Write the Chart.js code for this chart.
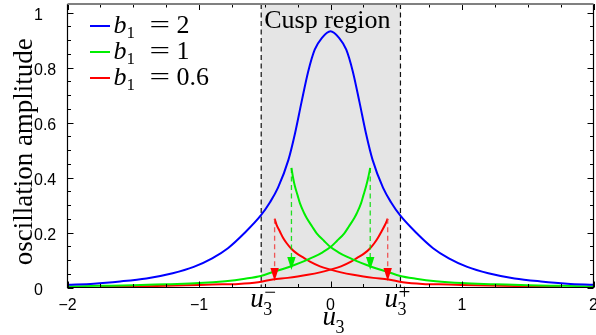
<!DOCTYPE html>
<html><head><meta charset="utf-8">
<script src="https://cdn.jsdelivr.net/npm/chart.js@4/dist/chart.umd.min.js"></script>
<style>html,body{margin:0;padding:0;background:#fff;}canvas{display:block;}</style>
</head><body>
<canvas id="c" width="596" height="335"></canvas>
<script>
// ---------------- data ----------------
const blueU = [-2.0,-1.8,-1.6,-1.4,-1.2,-1.04,-0.9,-0.78,-0.65,-0.53,-0.46,-0.40,-0.32,-0.27,-0.22,-0.17,-0.12,-0.065,0,0.065,0.12,0.17,0.22,0.27,0.32,0.40,0.46,0.53,0.65,0.78,0.9,1.04,1.2,1.4,1.6,1.8,2.0];
const blueV = [0.010,0.014,0.022,0.033,0.052,0.075,0.106,0.143,0.200,0.262,0.310,0.362,0.464,0.560,0.675,0.785,0.865,0.908,0.932,0.908,0.865,0.785,0.675,0.560,0.464,0.362,0.310,0.262,0.200,0.143,0.106,0.075,0.052,0.033,0.022,0.014,0.010];

// green, b1 = 1 : lower branch rising to the right fold, upper branch falling from the left fold
const greenAU = [-2.0,-1.75,-1.5,-1.25,-1.0,-0.8,-0.65,-0.53,-0.427,-0.35,-0.275,-0.2,-0.123,-0.06,0,0.05,0.105,0.14,0.18,0.2,0.232,0.25,0.27,0.287,0.302];
const greenAV = [0.004,0.006,0.008,0.012,0.016,0.023,0.032,0.042,0.058,0.069,0.082,0.096,0.112,0.128,0.147,0.170,0.197,0.222,0.252,0.270,0.306,0.335,0.367,0.400,0.435];
const greenBU = [-0.297,-0.285,-0.27,-0.25,-0.232,-0.2,-0.18,-0.14,-0.105,-0.05,0,0.06,0.123,0.2,0.275,0.35,0.427,0.53,0.65,0.8,1.0,1.25,1.5,1.75,2.0];
const greenBV = [0.435,0.400,0.367,0.335,0.306,0.270,0.252,0.222,0.197,0.170,0.147,0.128,0.112,0.096,0.082,0.069,0.058,0.042,0.032,0.023,0.016,0.012,0.008,0.006,0.004];

// red, b1 = 0.6
const redAU = [-1.75,-1.4,-1.1,-0.9,-0.7,-0.55,-0.44,-0.326,-0.25,-0.173,-0.08,0,0.08,0.156,0.2,0.257,0.3,0.333,0.36,0.387,0.415,0.435];
const redAV = [0.003,0.005,0.008,0.011,0.013,0.019,0.029,0.035,0.040,0.046,0.055,0.065,0.077,0.094,0.107,0.124,0.142,0.161,0.180,0.203,0.228,0.250];
const redBU = [-0.425,-0.41,-0.384,-0.36,-0.333,-0.3,-0.257,-0.2,-0.156,-0.08,0,0.08,0.173,0.25,0.326,0.44,0.55,0.7,0.9,1.1,1.4,1.75];
const redBV = [0.250,0.228,0.203,0.180,0.161,0.142,0.124,0.107,0.094,0.077,0.065,0.055,0.046,0.040,0.035,0.029,0.019,0.013,0.011,0.008,0.005,0.003];

// jump arrows at the fold points
const arrowU    = [-0.297, 0.302, -0.425, 0.435];
const arrowFrom = [0.435, 0.435, 0.250, 0.250];
const arrowTo   = [0.064, 0.064, 0.024, 0.024];
const arrowSeries = ['green','green','red','red'];

const cuspRegion = [-0.527, 0.532];
const cuspLabel = 'Cusp region';

const legendValues = ['2','1','0.6'];
const xTicks = [-2,-1,0,1,2];
const xTickLabels = ['\u22122','\u22121','0','1','2'];
const yTicks = [0,0.2,0.4,0.6,0.8,1];
const yTickLabels = ['0','0.2','0.4','0.6','0.8','1'];
const yTitle = 'oscillation amplitude';

// ---------------- styles ----------------
const COL = {blue:'#0000ff', green:'#00ee00', red:'#ff0000'};
const DASHCOL = {green:'rgba(0,220,0,0.85)', red:'rgba(240,60,60,0.85)'};
const SERIF = '"Liberation Serif", "Times New Roman", serif';
const SANS = '"Liberation Sans", Arial, sans-serif';

const pts = (u, v) => u.map((x, i) => ({x, y: v[i]}));
const lineDs = (label, u, v, c) => ({
  label, data: pts(u, v), borderColor: c, backgroundColor: c, borderWidth: 2,
  pointRadius: 0, cubicInterpolationMode: 'monotone', fill: false
});

const px = (ch, u) => ch.scales.x.getPixelForValue(u);
const py = (ch, v) => ch.scales.y.getPixelForValue(v);

const shadePlugin = {
  id: 'shade',
  beforeDatasetsDraw(ch) {
    const {ctx, chartArea: a} = ch;
    const x0 = px(ch, cuspRegion[0]), x1 = px(ch, cuspRegion[1]);
    ctx.save();
    ctx.fillStyle = '#e5e5e5';
    ctx.fillRect(x0, a.top, x1 - x0, a.bottom - a.top);
    ctx.strokeStyle = '#111'; ctx.lineWidth = 1.2; ctx.setLineDash([5, 3.5]);
    for (const x of [x0, x1]) { ctx.beginPath(); ctx.moveTo(x, a.top); ctx.lineTo(x, a.bottom); ctx.stroke(); }
    ctx.restore();
  }
};

const framePlugin = {
  id: 'frame',
  afterDatasetsDraw(ch) {
    const {ctx, chartArea: a} = ch;
    ctx.save();
    ctx.strokeStyle = '#000'; ctx.lineWidth = 1;
    for (let u = -2; u <= 2.0001; u += 0.25) {
      const x = Math.round(px(ch, u)) + 0.5;
      const major = Math.abs(u - Math.round(u)) < 1e-6;
      const L = major ? 6 : 3.5;
      ctx.beginPath(); ctx.moveTo(x, a.bottom); ctx.lineTo(x, a.bottom - L);
      ctx.moveTo(x, a.top); ctx.lineTo(x, a.top + L); ctx.stroke();
    }
    for (let k = 0; k <= 20; k++) {
      const v = k * 0.05;
      const y = Math.round(py(ch, v)) + 0.5;
      const L = (k % 4 === 0) ? 6 : 3.5;
      ctx.beginPath(); ctx.moveTo(a.left, y); ctx.lineTo(a.left + L, y);
      ctx.moveTo(a.right, y); ctx.lineTo(a.right - L, y); ctx.stroke();
    }
    ctx.strokeStyle = '#000'; ctx.lineWidth = 1.2;
    ctx.beginPath();
    ctx.moveTo(a.left, a.top); ctx.lineTo(a.left, a.bottom); ctx.lineTo(a.right, a.bottom); ctx.lineTo(a.right, a.top);
    ctx.stroke();
    ctx.strokeStyle = '#808080'; ctx.lineWidth = 1.8;
    ctx.beginPath(); ctx.moveTo(a.left, a.top); ctx.lineTo(a.right, a.top); ctx.stroke();
    ctx.restore();
  }
};

const arrowPlugin = {
  id: 'arrows',
  afterDatasetsDraw(ch) {
    const ctx = ch.ctx;
    ctx.save();
    arrowU.forEach((u, i) => {
      const x = px(ch, u), y0 = py(ch, arrowFrom[i]), y1 = py(ch, arrowTo[i]);
      const head = 13, hw = 4.2;
      ctx.strokeStyle = DASHCOL[arrowSeries[i]]; ctx.lineWidth = 1.3; ctx.setLineDash([5, 3.5]);
      ctx.beginPath(); ctx.moveTo(x, y0); ctx.lineTo(x, y1 - head + 1); ctx.stroke();
      ctx.setLineDash([]);
      ctx.fillStyle = COL[arrowSeries[i]];
      ctx.beginPath(); ctx.moveTo(x - hw, y1 - head); ctx.lineTo(x + hw, y1 - head); ctx.lineTo(x, y1); ctx.closePath(); ctx.fill();
    });
    ctx.restore();
  }
};

function wideEq(ctx, x, y) {
  ctx.save();
  ctx.translate(x, y); ctx.scale(1.4, 1);
  ctx.font = '26px ' + SERIF; ctx.fillText('=', 0, 0);
  ctx.restore();
}

function drawU3(ctx, x, y, sup) {
  ctx.font = 'italic 27px ' + SERIF; ctx.textAlign = 'left'; ctx.textBaseline = 'alphabetic';
  ctx.fillText('u', x, y);
  ctx.font = '18px ' + SERIF;
  ctx.fillText('3', x + 13, y + 8);
  if (sup) {
    ctx.font = '21px ' + SERIF;
    ctx.fillText(sup, x + 14, y - 8);
  }
}

const textPlugin = {
  id: 'texts',
  afterDraw(ch) {
    const {ctx, chartArea: a} = ch;
    ctx.save();
    ctx.fillStyle = '#000';
    ctx.font = '26px ' + SERIF; ctx.textAlign = 'left'; ctx.textBaseline = 'alphabetic';
    ctx.fillText(cuspLabel, px(ch, cuspRegion[0]) + 3, a.top + 24);
    // legend
    const lds = ch.data.datasets.filter(d => d.showInLegend);
    lds.forEach((d, i) => {
      const ly = a.top + 22 + i * 26;
      ctx.strokeStyle = d.borderColor; ctx.lineWidth = 2;
      ctx.beginPath(); ctx.moveTo(a.left + 22.5, ly); ctx.lineTo(a.left + 42.5, ly); ctx.stroke();
      ctx.fillStyle = '#000';
      const tx = a.left + 46;
      ctx.font = 'italic 26px ' + SERIF; ctx.fillText('b', tx, ly + 7);
      ctx.font = '17px ' + SERIF; ctx.fillText('1', tx + 13, ly + 12);
      wideEq(ctx, tx + 36, ly + 7);
      ctx.font = '26px ' + SERIF;
      ctx.fillText(legendValues[i], tx + 63, ly + 7);
    });
    drawU3(ctx, px(ch, cuspRegion[0]) - 11, a.bottom + 19, '\u2212');
    drawU3(ctx, px(ch, cuspRegion[1]) - 16, a.bottom + 19, '+');
    drawU3(ctx, (a.left + a.right) / 2 - 8, a.bottom + 37, null);
    ctx.save();
    ctx.translate(32, (a.top + a.bottom) / 2 + 6);
    ctx.rotate(-Math.PI / 2);
    ctx.font = '27px ' + SERIF; ctx.textAlign = 'center'; ctx.textBaseline = 'alphabetic';
    ctx.fillText(yTitle, 0, 0);
    ctx.restore();
    ctx.restore();
  }
};

const data = {
  datasets: [
    Object.assign(lineDs('b\u2081 = 2', blueU, blueV, COL.blue), {showInLegend: true}),
    Object.assign(lineDs('b\u2081 = 1', greenAU, greenAV, COL.green), {showInLegend: true}),
    lineDs('b\u2081 = 1 (upper branch)', greenBU, greenBV, COL.green),
    Object.assign(lineDs('b\u2081 = 0.6', redAU, redAV, COL.red), {showInLegend: true}),
    lineDs('b\u2081 = 0.6 (upper branch)', redBU, redBV, COL.red)
  ]
};

new Chart(document.getElementById('c'), {
  type: 'line',
  data,
  plugins: [shadePlugin, framePlugin, arrowPlugin, textPlugin],
  options: {
    responsive: false, animation: false, devicePixelRatio: 1,
    layout: {padding: {left: 34, top: 4, right: 2.5, bottom: 0}},
    plugins: {legend: {display: false}, tooltip: {enabled: false}},
    scales: {
      x: {
        type: 'linear', min: -2, max: 2,
        grid: {display: false, drawTicks: false}, border: {display: false},
        afterBuildTicks: s => { s.ticks = xTicks.map(v => ({value: v})); },
        afterFit: s => { s.height = 47.5; s.paddingLeft = 0; s.paddingRight = 0; },
        ticks: {
          autoSkip: false, maxRotation: 0, padding: 8, color: '#000',
          font: {family: SANS, size: 16},
          callback: (v) => xTickLabels[xTicks.indexOf(v)]
        }
      },
      y: {
        type: 'linear', min: 0, max: 1.031,
        grid: {display: false, drawTicks: false}, border: {display: false},
        afterBuildTicks: s => { s.ticks = yTicks.map(v => ({value: v})); },
        afterFit: s => { s.width = 33.5; s.paddingTop = 0; s.paddingBottom = 0; },
        ticks: {
          crossAlign: 'far', labelOffset: 3, color: '#000',
          font: {family: SANS, size: 16},
          callback: (v) => yTickLabels[yTicks.indexOf(v)]
        }
      }
    }
  }
});
</script>
</body></html>
